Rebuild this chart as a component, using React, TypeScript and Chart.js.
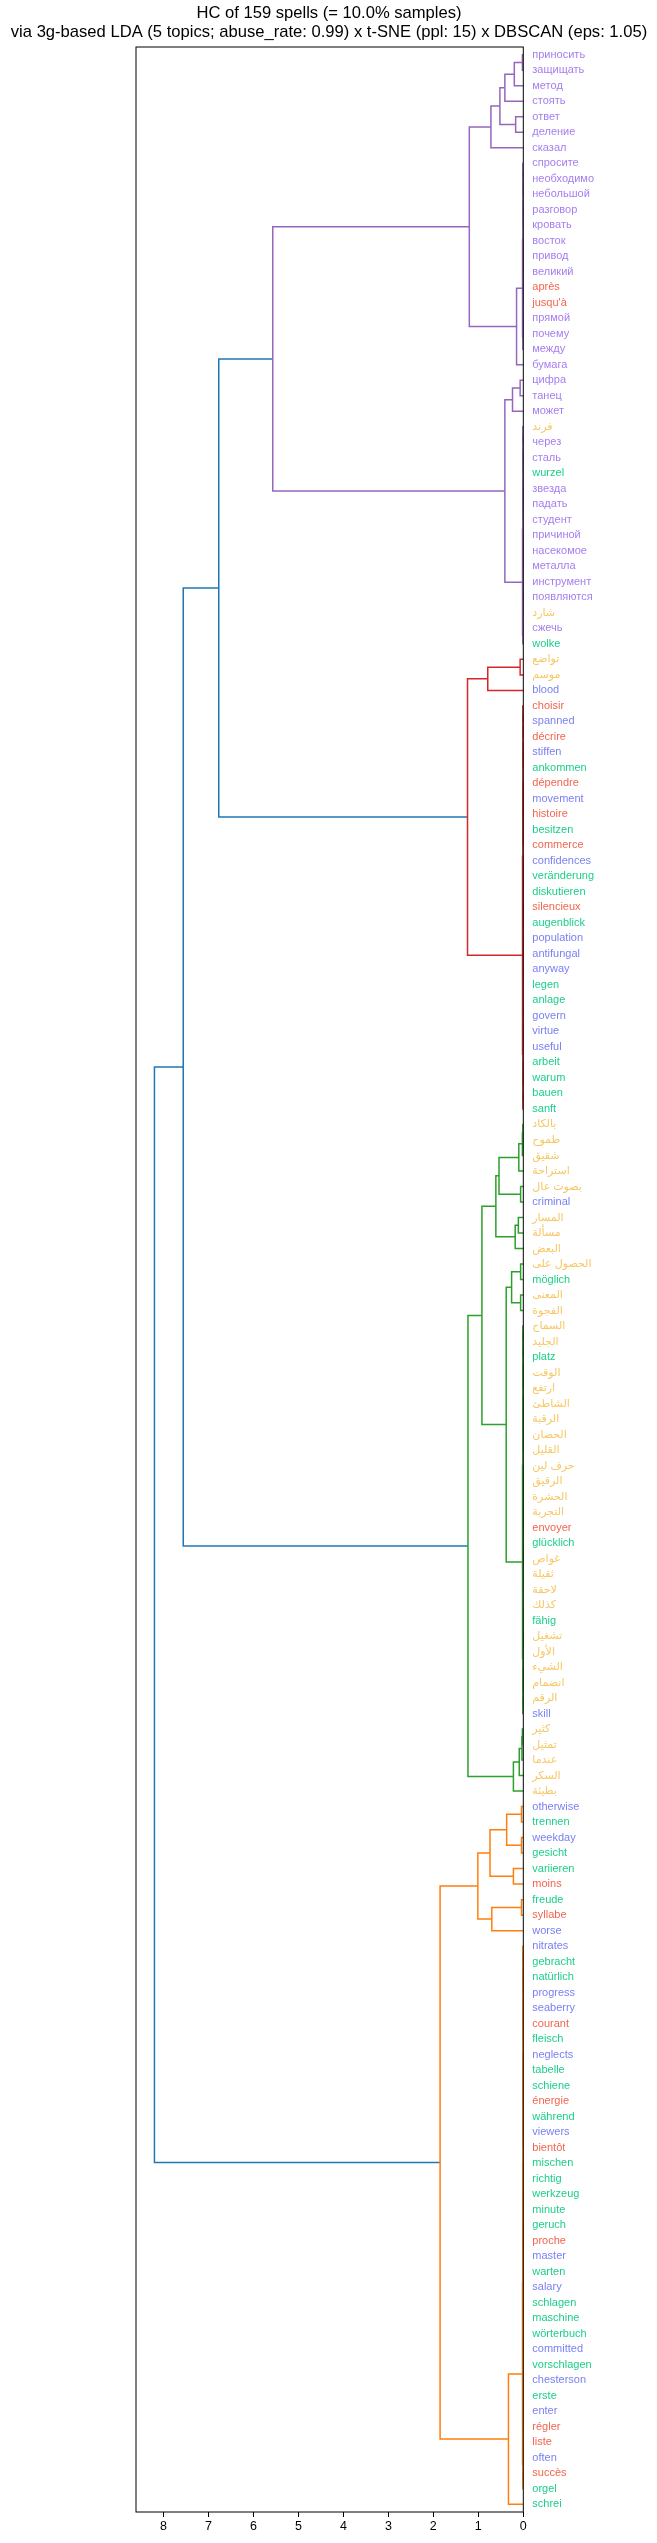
import React, { useEffect, useRef } from "react";
import { Chart, registerables } from "chart.js";

Chart.register(...registerables);

const FONT = "'Liberation Sans', Arial, 'DejaVu Sans', sans-serif";

const titleLines = [
  "HC of 159 spells (= 10.0% samples)",
  "via 3g-based LDA (5 topics; abuse_rate: 0.99) x t-SNE (ppl: 15) x DBSCAN (eps: 1.05)",
];

// leaves, top to bottom
const leafLabels = [
  "приносить", "защищать", "метод", "стоять", "ответ", "деление", "сказал", "спросите", "необходимо", "небольшой",
  "разговор", "кровать", "восток", "привод", "великий", "après", "jusqu'à", "прямой", "почему", "между",
  "бумага", "цифра", "танец", "может", "فرند", "через", "сталь", "wurzel", "звезда", "падать",
  "студент", "причиной", "насекомое", "металла", "инструмент", "появляются", "شارد", "сжечь", "wolke", "تواضع",
  "موسم", "blood", "choisir", "spanned", "décrire", "stiffen", "ankommen", "dépendre", "movement", "histoire",
  "besitzen", "commerce", "confidences", "veränderung", "diskutieren", "silencieux", "augenblick", "population", "antifungal", "anyway",
  "legen", "anlage", "govern", "virtue", "useful", "arbeit", "warum", "bauen", "sanft", "بالكاد",
  "طموح", "شقيق", "استراحة", "بصوت عال", "criminal", "المسار", "مسألة", "البعض", "الحصول على", "möglich",
  "المعنى", "الفجوة", "السماح", "الجليد", "platz", "الوقت", "ارتفع", "الشاطئ", "الرقبة", "الحصان",
  "القليل", "حرف لين", "الرقيق", "الحشرة", "التجربة", "envoyer", "glücklich", "غواص", "ثقيلة", "لاحقة",
  "كذلك", "fähig", "تشغيل", "الأول", "الشيء", "انضمام", "الرقم", "skill", "كثير", "تمثيل",
  "عندما", "السكر", "بطيئة", "otherwise", "trennen", "weekday", "gesicht", "variieren", "moins", "freude",
  "syllabe", "worse", "nitrates", "gebracht", "natürlich", "progress", "seaberry", "courant", "fleisch", "neglects",
  "tabelle", "schiene", "énergie", "während", "viewers", "bientôt", "mischen", "richtig", "werkzeug", "minute",
  "geruch", "proche", "master", "warten", "salary", "schlagen", "maschine", "wörterbuch", "committed", "vorschlagen",
  "chesterson", "erste", "enter", "régler", "liste", "often", "succès", "orgel", "schrei",
];

const leafLangs = [
  "ru", "ru", "ru", "ru", "ru", "ru", "ru", "ru", "ru", "ru",
  "ru", "ru", "ru", "ru", "ru", "fr", "fr", "ru", "ru", "ru",
  "ru", "ru", "ru", "ru", "ar", "ru", "ru", "de", "ru", "ru",
  "ru", "ru", "ru", "ru", "ru", "ru", "ar", "ru", "de", "ar",
  "ar", "en", "fr", "en", "fr", "en", "de", "fr", "en", "fr",
  "de", "fr", "en", "de", "de", "fr", "de", "en", "en", "en",
  "de", "de", "en", "en", "en", "de", "de", "de", "de", "ar",
  "ar", "ar", "ar", "ar", "en", "ar", "ar", "ar", "ar", "de",
  "ar", "ar", "ar", "ar", "de", "ar", "ar", "ar", "ar", "ar",
  "ar", "ar", "ar", "ar", "ar", "fr", "de", "ar", "ar", "ar",
  "ar", "de", "ar", "ar", "ar", "ar", "ar", "en", "ar", "ar",
  "ar", "ar", "ar", "en", "de", "en", "de", "de", "fr", "de",
  "fr", "en", "en", "de", "de", "en", "en", "fr", "de", "en",
  "de", "de", "fr", "de", "en", "fr", "de", "de", "de", "de",
  "de", "fr", "en", "de", "en", "de", "de", "de", "en", "de",
  "en", "de", "en", "fr", "fr", "en", "fr", "de", "de",
];

const langColors: Record<string, string> = {
  ru: "#a57ef0",
  fr: "#f2654f",
  de: "#1ccf8a",
  en: "#7b80f3",
  ar: "#f7c763",
};

const clusterPalette = ["#ff7f0e", "#2ca02c", "#d62728", "#9467bd", "#8c564b"];
const aboveColor = "#1f77b4";

const xTicks = [0, 1, 2, 3, 4, 5, 6, 7, 8];
const xMax = 8.61;

// tree: leaf = 1-based leaf number, node = [height, upper, lower]
type Node = number | [number, Node, Node];
const NEAR_ZERO = 0.01;
// groups of leaves merged at (almost) zero distance
function z(a: number, b: number): Node {
  if (a === b) return a;
  const m = Math.floor((a + b) / 2);
  return [NEAR_ZERO, z(a, m), z(m + 1, b)];
}

const purpleTree: Node = [5.57,
  [1.20,
    [0.72, [0.52, [0.41, [0.20, [0.02, 1, 2], 3], 4], [0.17, 5, 6]], 7],
    [0.15, [0.02, z(8, 17), z(18, 20)], 21]],
  [0.41, [0.24, [0.07, 22, 23], 24], [0.02, z(25, 37), z(38, 39)]]];

const redTree: Node = [1.24, [0.79, [0.07, 40, 41], 42], [0.02, z(43, 61), z(62, 69)]];

const greenTree: Node = [1.23,
  [0.92,
    [0.61,
      [0.54, [0.10, [0.02, [0.01, 70, 71], 72], 73], [0.06, 74, 75]],
      [0.18, [0.11, 76, 77], 78]],
    [0.38, [0.26, [0.06, 79, 80], [0.06, 81, 82]], [0.02, z(83, 100), z(101, 108)]]],
  [0.22, [0.09, [0.03, [0.02, 109, 110], 111], 112], 113]];

const orangeTree: Node = [1.85,
  [1.01,
    [0.74, [0.37, [0.04, 114, 115], [0.04, 116, 117]], [0.22, 118, 119]],
    [0.70, [0.04, 120, 121], 122]],
  [0.33, [0.02, [0.015, z(123, 150), z(151, 154)], z(155, 158)], 159]];

const mergeB = 6.77;
const mergeA = 7.56;
const mergeRoot = 8.2;

const rootTree: Node = [mergeRoot, [mergeA, [mergeB, purpleTree, redTree], greenTree], orangeTree];

type Link = { pts: { x: number; y: number }[]; color: string };

function buildLinks(): Link[] {
  const threshold = 0.7 * mergeRoot;
  const links: Link[] = [];
  const clusterRoots: Node[] = [];
  const findClusters = (n: Node) => {
    if (typeof n === "number") return;
    if (n[0] < threshold) { clusterRoots.push(n); return; }
    findClusters(n[1]); findClusters(n[2]);
  };
  findClusters(rootTree);
  const colorOf = new Map<Node, string>();
  clusterRoots.forEach((n, i) => colorOf.set(n, clusterPalette[(clusterRoots.length - 1 - i) % clusterPalette.length]));

  const walk = (n: Node, color: string | null): { y: number; h: number } => {
    if (typeof n === "number") return { y: n - 0.5, h: 0 };
    const c = color ?? (colorOf.get(n) || null);
    const a = walk(n[1], c);
    const b = walk(n[2], c);
    const h = n[0];
    links.push({
      pts: [{ x: a.h, y: a.y }, { x: h, y: a.y }, { x: h, y: b.y }, { x: b.h, y: b.y }],
      color: c ?? aboveColor,
    });
    return { y: (a.y + b.y) / 2, h };
  };
  walk(rootTree, null);
  return links;
}

export default function App() {
  const ref = useRef<HTMLCanvasElement | null>(null);
  useEffect(() => {
    document.body.style.margin = "0";
    const canvas = ref.current;
    if (!canvas) return;
    const links = buildLinks();

    const titlePlugin = {
      id: "titleText",
      afterDraw(chart: any) {
        const ctx = chart.ctx;
        ctx.save();
        ctx.fillStyle = "#000";
        ctx.font = `16.6px ${FONT}`;
        ctx.textAlign = "center";
        ctx.textBaseline = "middle";
        titleLines.forEach((t, i) => ctx.fillText(t, 329, 13.5 + i * 19.3));
        ctx.restore();
      },
    };
    const framePlugin = {
      id: "frame",
      afterDatasetsDraw(chart: any) {
        const { ctx, chartArea } = chart;
        ctx.save();
        ctx.strokeStyle = "#000";
        ctx.lineWidth = 1;
        ctx.strokeRect(chartArea.left, chartArea.top, chartArea.right - chartArea.left, chartArea.bottom - chartArea.top);
        ctx.restore();
      },
    };

    const chart = new Chart(canvas, {
      type: "line",
      data: {
        datasets: links.map((l) => ({
          data: l.pts,
          borderColor: l.color,
          borderWidth: 1.5,
          pointRadius: 0,
          fill: false,
          tension: 0,
        })),
      },
      options: {
        animation: false,
        responsive: false,
        devicePixelRatio: 1,
        layout: { padding: { left: 136, top: 47, right: 0, bottom: 0 } },
        plugins: { legend: { display: false }, tooltip: { enabled: false }, title: { display: false } },
        scales: {
          x: {
            type: "linear",
            min: 0,
            max: xMax,
            reverse: true,
            position: "bottom",
            afterBuildTicks: (s: any) => { s.ticks = xTicks.map((v) => ({ value: v })); },
            afterFit: (s: any) => { s.height = 31; },
            grid: { drawOnChartArea: false, drawTicks: true, tickLength: 5, color: "#000", lineWidth: 1 },
            border: { display: false },
            ticks: { color: "#000", font: { family: FONT, size: 12.5 }, padding: 2, maxRotation: 0, autoSkip: false },
          },
          y: {
            type: "linear",
            min: 0,
            max: leafLabels.length,
            reverse: true,
            position: "right",
            afterBuildTicks: (s: any) => { s.ticks = leafLabels.map((_, i) => ({ value: i + 0.5 })); },
            afterFit: (s: any) => { s.width = 657 - 523.3; },
            grid: { display: false, drawTicks: false, tickLength: 0 },
            border: { display: false },
            ticks: {
              autoSkip: false,
              padding: 9,
              font: { family: FONT, size: 11 },
              color: (ctx: any) => langColors[leafLangs[ctx.index]] || "#000",
              callback: (_v: any, i: number) => leafLabels[i],
            },
          },
        },
      } as any,
      plugins: [titlePlugin, framePlugin],
    });
    return () => chart.destroy();
  }, []);

  return (
    <div style={{ position: "absolute", left: 0, top: 0, width: 657, height: 2543, background: "#fff" }}>
      <canvas ref={ref} width={657} height={2543} style={{ width: 657, height: 2543, display: "block" }} />
    </div>
  );
}
